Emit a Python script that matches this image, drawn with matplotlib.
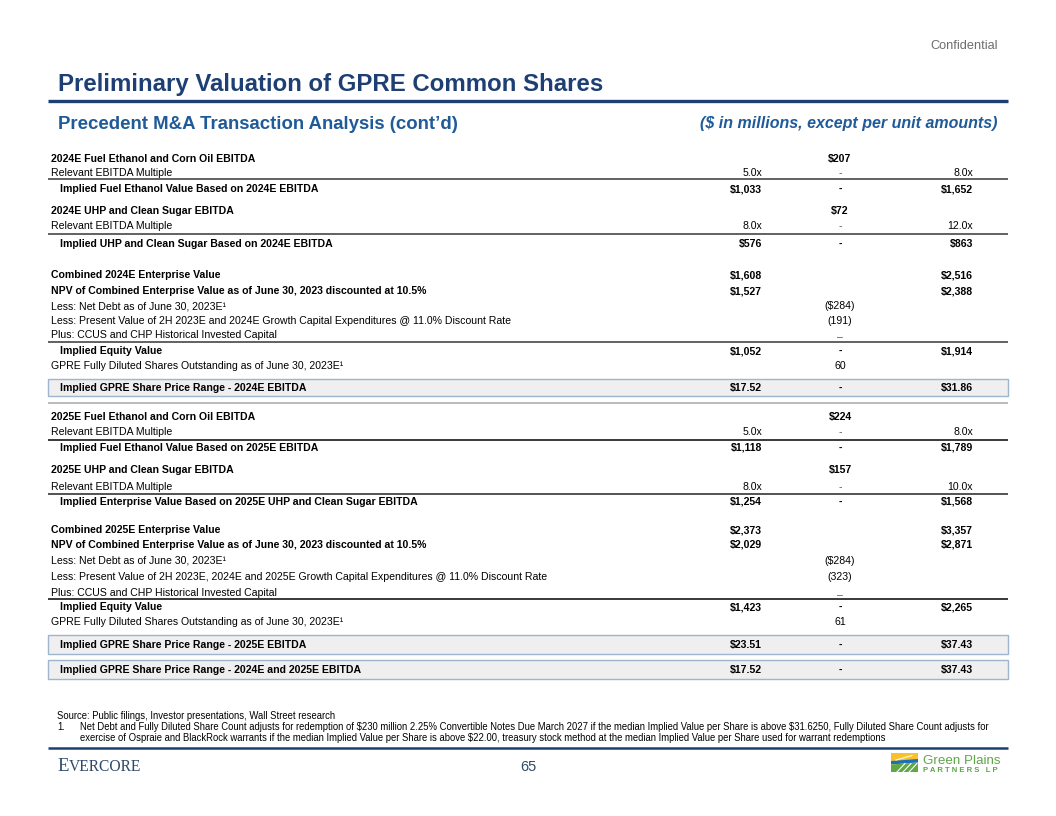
import matplotlib
matplotlib.use("Agg")
import matplotlib.pyplot as plt
from matplotlib.patches import Rectangle, Polygon
from matplotlib import font_manager

plt.rcParams["text.parse_math"] = False

# ---------------- data ----------------
row_labels = [
    "2024E Fuel Ethanol and Corn Oil EBITDA",
    "Relevant EBITDA Multiple",
    "Implied Fuel Ethanol Value Based on 2024E EBITDA",
    "2024E UHP and Clean Sugar EBITDA",
    "Relevant EBITDA Multiple",
    "Implied UHP and Clean Sugar Based on 2024E EBITDA",
    "Combined 2024E Enterprise Value",
    "NPV of Combined Enterprise Value as of June 30, 2023 discounted at 10.5%",
    "Less: Net Debt as of June 30, 2023E\u00b9",
    "Less: Present Value of 2H 2023E and 2024E Growth Capital Expenditures @ 11.0% Discount Rate",
    "Plus: CCUS and CHP Historical Invested Capital",
    "Implied Equity Value",
    "GPRE Fully Diluted Shares Outstanding as of June 30, 2023E\u00b9",
    "Implied GPRE Share Price Range - 2024E EBITDA",
    "2025E Fuel Ethanol and Corn Oil EBITDA",
    "Relevant EBITDA Multiple",
    "Implied Fuel Ethanol Value Based on 2025E EBITDA",
    "2025E UHP and Clean Sugar EBITDA",
    "Relevant EBITDA Multiple",
    "Implied Enterprise Value Based on 2025E UHP and Clean Sugar EBITDA",
    "Combined 2025E Enterprise Value",
    "NPV of Combined Enterprise Value as of June 30, 2023 discounted at 10.5%",
    "Less: Net Debt as of June 30, 2023E\u00b9",
    "Less: Present Value of 2H 2023E, 2024E and 2025E Growth Capital Expenditures @ 11.0% Discount Rate",
    "Plus: CCUS and CHP Historical Invested Capital",
    "Implied Equity Value",
    "GPRE Fully Diluted Shares Outstanding as of June 30, 2023E\u00b9",
    "Implied GPRE Share Price Range - 2025E EBITDA",
    "Implied GPRE Share Price Range - 2024E and 2025E EBITDA",
]
low_vals = ["", "5.0x", "$1,033", "", "8.0x", "$576", "$1,608", "$1,527", "", "", "",
            "$1,052", "", "$17.52",
            "", "5.0x", "$1,118", "", "8.0x", "$1,254", "$2,373", "$2,029", "", "", "",
            "$1,423", "", "$23.51", "$17.52"]
mid_vals = ["$207", "-", "-", "$72", "-", "-", "", "", "($284)", "(191)", "\u2013",
            "-", "60", "-",
            "$224", "-", "-", "$157", "-", "-", "", "", "($284)", "(323)", "\u2013",
            "-", "61", "-", "-"]
high_vals = ["", "8.0x", "$1,652", "", "12.0x", "$863", "$2,516", "$2,388", "", "", "",
             "$1,914", "", "$31.86",
             "", "8.0x", "$1,789", "", "10.0x", "$1,568", "$3,357", "$2,871", "", "", "",
             "$2,265", "", "$37.43", "$37.43"]

title = "Preliminary Valuation of GPRE Common Shares"
subtitle = "Precedent M&A Transaction Analysis (cont\u2019d)"
units = "($ in millions, except per unit amounts)"
source_note = "Source: Public filings, Investor presentations, Wall Street research"
footnote_1a = ("Net Debt and Fully Diluted Share Count adjusts for redemption of $230 million 2.25% Convertible "
               "Notes Due March 2027 if the median Implied Value per Share is above $31.6250, Fully Diluted "
               "Share Count adjusts for")
footnote_1b = ("exercise of Ospraie and BlackRock warrants if the median Implied Value per Share is above $22.00, "
               "treasury stock method at the median Implied Value per Share used for warrant redemptions")
page_num = "65"

# ---------------- layout / style ----------------
row_y = [158, 172, 188.5, 210.5, 225.5, 243.5, 274.5, 290.5, 305.5, 320.5, 334.5, 350.5, 365.5, 387.5,
         416.5, 431, 447, 469.5, 486.5, 501, 529.5, 544, 560, 576, 592, 606.5, 621, 644, 669]
bold_rows = {0, 2, 3, 5, 6, 7, 11, 13, 14, 16, 17, 19, 20, 21, 25, 27, 28}
indent_rows = {2, 5, 11, 13, 16, 19, 25, 27, 28}
box_rows = {13: (378.5, 396), 27: (634.5, 653.5), 28: (659.5, 678.5)}
sep_lines = [(178.8, "#555555"), (234.3, "#555555"), (341.8, "#555555"), (402.8, "#b5b5b5"),
             (440.3, "#2a2a2a"), (494.0, "#444444"), (599.0, "#2a2a2a")]

TABLE_L, TABLE_R = 48, 1008
X_LABEL, X_INDENT = 51, 60
X_LOW, X_MID, X_HIGH = 762, 840, 973

DARK_BLUE = "#1d3f73"
MID_BLUE = "#1f5a99"

fams = {f.name for f in font_manager.fontManager.ttflist}
SANS = "Liberation Sans" if "Liberation Sans" in fams else "DejaVu Sans"
NARROW = "Liberation Sans Narrow" if "Liberation Sans Narrow" in fams else SANS
SERIF = "Liberation Serif" if "Liberation Serif" in fams else "DejaVu Serif"

fig = plt.figure(figsize=(10.56, 8.16), dpi=100)
ax = fig.add_axes([0, 0, 1, 1])
ax.set_xlim(0, 1056)
ax.set_ylim(816, 0)
ax.axis("off")
renderer = fig.canvas.get_renderer()


def width_of(s, size, **kw):
    t = ax.text(0, 0, s, fontsize=size, **kw)
    w = t.get_window_extent(renderer).width
    t.remove()
    return w


def fit_size(s, target, **kw):
    return 10 * target / width_of(s, 10, **kw)


def put(x, yc, s, size, ha="left", **kw):
    # yc = visual center of caps; convert to baseline
    px = size * 100 / 72.0
    return ax.text(x, yc + 0.36 * px, s, fontsize=size, ha=ha, va="baseline", **kw)


# ---------------- header ----------------
put(998, 44, "Confidential", fit_size("Confidential", 68, family=SANS), ha="right",
    family=SANS, color="#6d6d6d")
ts = fit_size(title, 546, family=SANS, weight="bold")
put(58, 82.5, title, ts, family=SANS, weight="bold", color=DARK_BLUE)
ax.plot([48, 1008], [101.3, 101.3], color=DARK_BLUE, lw=2.4, solid_capstyle="butt")
ss = fit_size(subtitle, 401, family=SANS, weight="bold")
put(58, 122.5, subtitle, ss, family=SANS, weight="bold", color=MID_BLUE)
us = fit_size(units, 298, family=SANS, weight="bold", style="italic")
put(998, 122.5, units, us, ha="right", family=SANS, weight="bold", style="italic", color=MID_BLUE)

# ---------------- table ----------------
reg_size = fit_size(row_labels[9], 461, family=SANS)
bold_size = fit_size(row_labels[7], 379, family=SANS, weight="bold")

for i, (y0, y1) in box_rows.items():
    ax.add_patch(Rectangle((TABLE_L, y0), TABLE_R - TABLE_L, y1 - y0, facecolor="#efefef",
                           edgecolor="#9fb4cf", lw=1.0))
for y, c in sep_lines:
    ax.plot([TABLE_L, TABLE_R], [y, y], color=c, lw=1.3, solid_capstyle="butt")

for i, lab in enumerate(row_labels):
    y = row_y[i]
    b = i in bold_rows
    size = bold_size if b else reg_size
    w = "bold" if b else "normal"
    x = X_INDENT if i in indent_rows else X_LABEL
    put(x, y, lab, size, family=SANS, weight=w, color="black")
    if low_vals[i]:
        put(X_LOW, y, low_vals[i], size, ha="right", family=SANS, weight=w, color="black")
    if mid_vals[i]:
        yy = y + 2 if mid_vals[i] == "\u2013" else y
        put(X_MID, yy, mid_vals[i], size, ha="center", family=SANS, weight=w,
            color="#555555" if (mid_vals[i] in ("-", "\u2013") and not b) else "black")
    if high_vals[i]:
        put(X_HIGH, y, high_vals[i], size, ha="right", family=SANS, weight=w, color="black")

# ---------------- footnotes ----------------
fn_size = fit_size(footnote_1a, 916, family=NARROW)
put(57, 715.5, source_note, fn_size, family=NARROW, color="black")
put(57, 726.5, "1.", fn_size, family=NARROW, color="black")
put(80, 726.5, footnote_1a, fn_size, family=NARROW, color="black")
put(80, 737.5, footnote_1b, fn_size, family=NARROW, color="black")
ax.plot([48, 1008], [748, 748], color=DARK_BLUE, lw=1.8, solid_capstyle="butt")

# Evercore wordmark (small caps)
EV = "#2e4a6b"
E_SIZE = 13.5
t1 = ax.text(57, 771, "E", fontsize=E_SIZE, family=SERIF, color=EV, va="baseline")
e_right = t1.get_window_extent(renderer).x1
vs = fit_size("VERCORE", 142 - e_right - 0.5, family=SERIF)
ax.text(e_right + 0.5, 771, "VERCORE", fontsize=vs, family=SERIF, color=EV, va="baseline")

put(528, 766, page_num, 10.5, ha="center", family=NARROW, color=EV)

# Green Plains logo mark
ax.add_patch(Rectangle((891, 753), 27, 8, facecolor="#f6c12a", edgecolor="none"))
ax.add_patch(Polygon([[891, 761], [918, 759], [918, 762.5], [891, 764.5]], closed=True,
                     facecolor="#1e6fb8", edgecolor="none"))
ax.add_patch(Polygon([[891, 764.5], [918, 762.5], [918, 772], [891, 772]], closed=True,
                     facecolor="#5fa843", edgecolor="none"))
for k in range(3):
    ax.plot([897 + 6 * k, 905 + 6 * k], [772, 763.5], color="white", lw=0.8)
ax.plot([896, 912], [760, 755.5], color="white", lw=0.9, alpha=0.8)

GREEN = "#5ea646"
gs = fit_size("Green Plains", 78, family=SANS)
put(923, 759.5, "Green Plains", gs, family=SANS, color=GREEN)
pl = "P A R T N E R S   L P"
ps = fit_size(pl, 75, family=SANS, weight="bold")
put(923, 769.5, pl, ps, family=SANS, weight="bold", color=GREEN)

fig.savefig("out.png", dpi=100)
